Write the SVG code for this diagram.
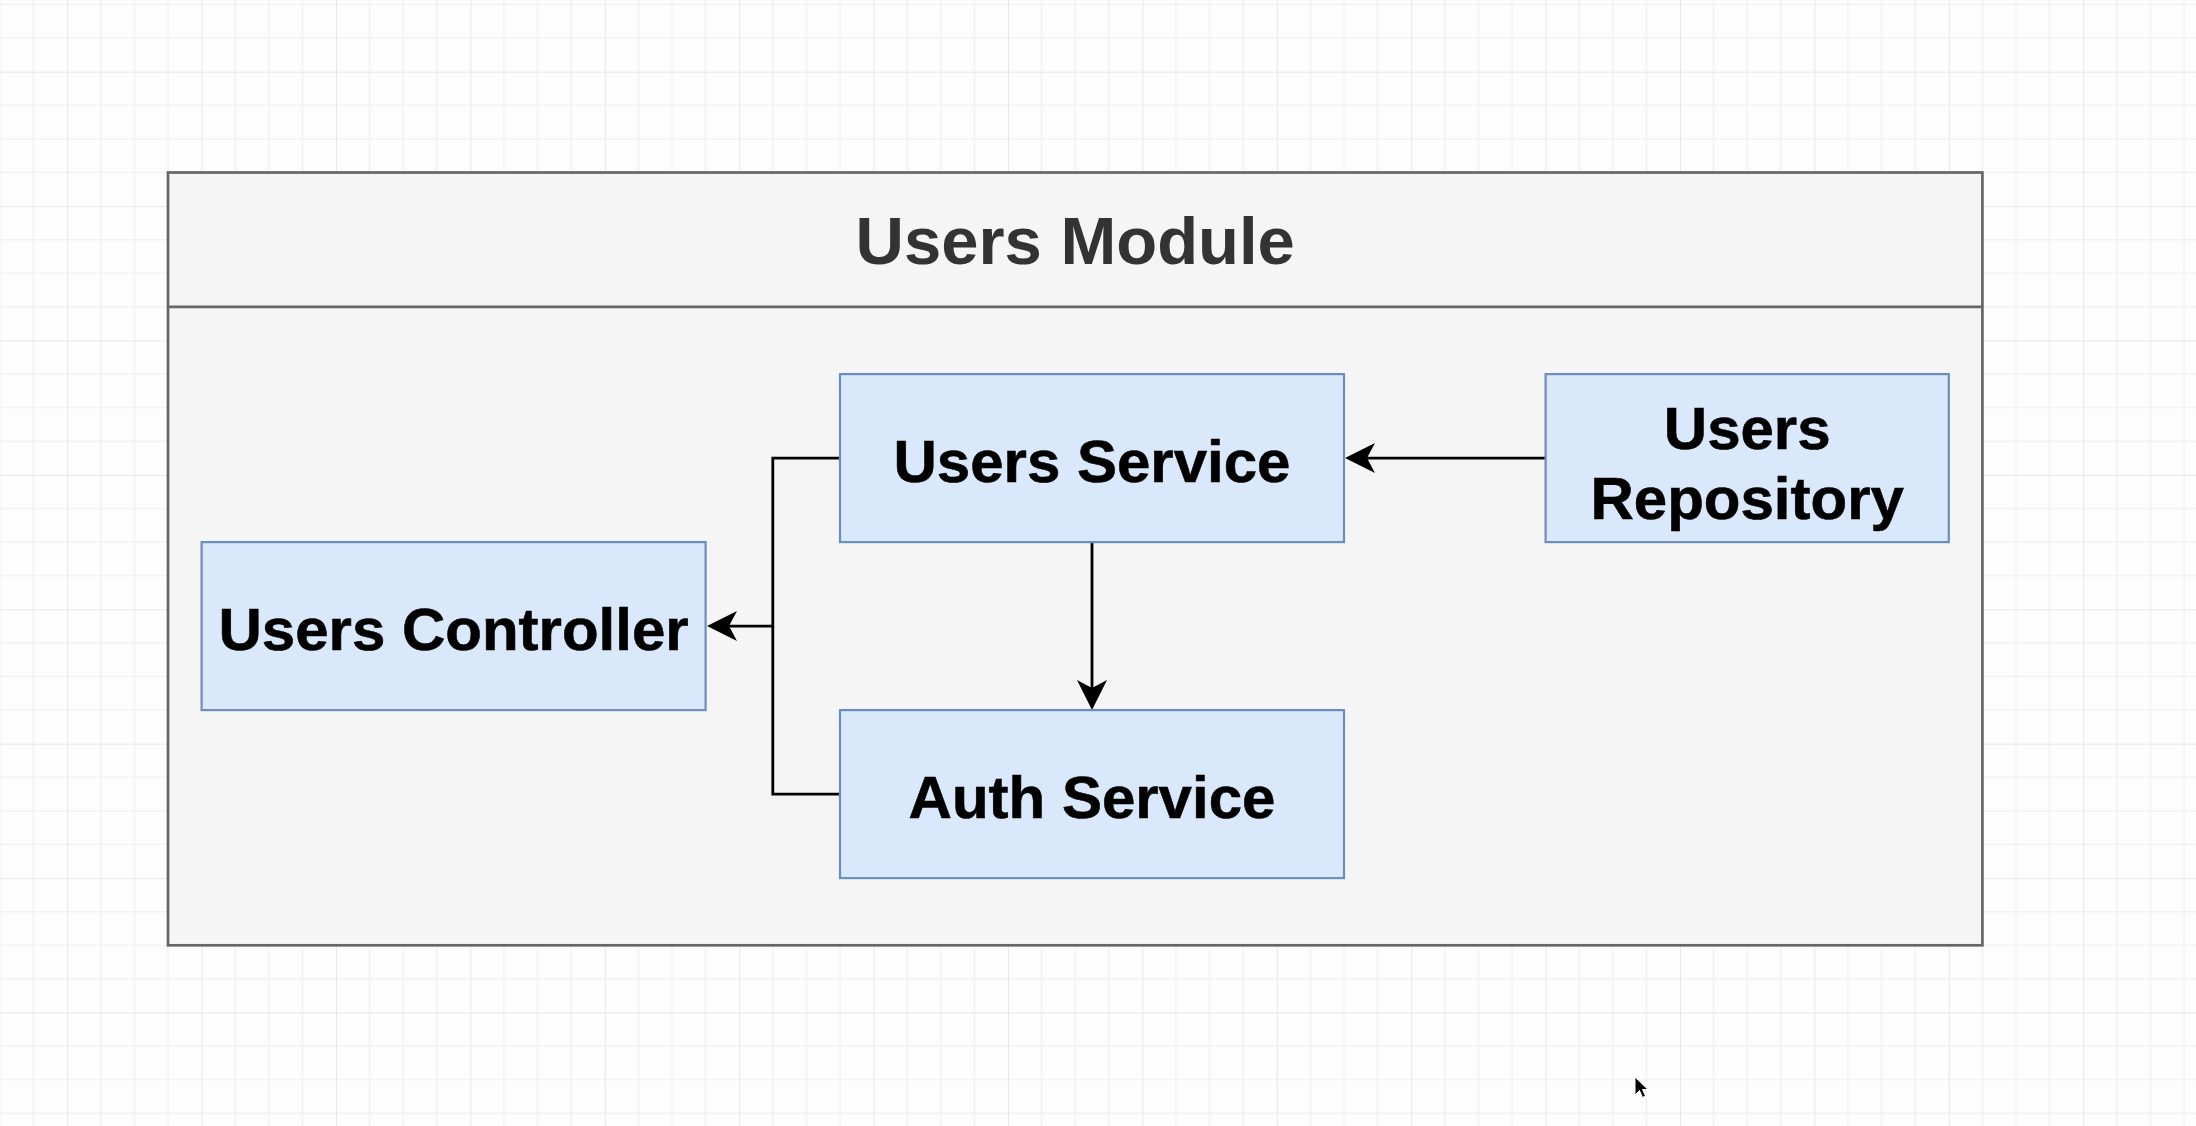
<svg xmlns="http://www.w3.org/2000/svg" width="2196" height="1126" viewBox="0 0 2196 1126">
  <defs>
    <pattern id="grid" patternUnits="userSpaceOnUse" x="67.2" y="71.7" width="134.4" height="134.4">
      <path d="M33.6,0 V134.4 M67.2,0 V134.4 M100.8,0 V134.4 M0,33.6 H134.4 M0,67.2 H134.4 M0,100.8 H134.4" stroke="#f1f1f1" stroke-width="1.5" fill="none"/>
      <path d="M0,0 V134.4 M0,0 H134.4" stroke="#e7e7e7" stroke-width="2" fill="none"/>
    </pattern>
    <marker id="arrow" markerUnits="userSpaceOnUse" viewBox="0 -15 30 30" refX="8" refY="0" markerWidth="30" markerHeight="30" orient="auto" overflow="visible">
      <path d="M0,-15 L30,0 L0,15 L8,0 Z" fill="#000"/>
    </marker>
  </defs>
  <style>
    .node rect { fill: #dae8fc; stroke: #6c8ebf; stroke-width: 2.2; }
    .label { font-family: "Liberation Sans", Arial, Helvetica, sans-serif; font-weight: bold; font-size: 60px; fill: #000; stroke: #000; stroke-width: 0.6; text-anchor: middle; }
    .title { font-family: "Liberation Sans", Arial, Helvetica, sans-serif; font-weight: bold; font-size: 67px; fill: #333333; text-anchor: middle; }
    .edge { fill: none; stroke: #000; stroke-width: 2.8; }
  </style>
  <rect x="0" y="0" width="2196" height="1126" fill="#fdfdfd"/>
  <rect x="0" y="0" width="2196" height="1126" fill="url(#grid)"/>

  <g id="users-module">
    <rect x="168" y="172.5" width="1814.4" height="772.8" fill="#f5f5f5" stroke="#666666" stroke-width="2.7"/>
    <line x1="168" y1="306.9" x2="1982.4" y2="306.9" stroke="#666666" stroke-width="2.7"/>
    <text class="title" x="1075.2" y="264">Users Module</text>
  </g>

  <g id="connectors">
    <path class="edge" d="M840,458.1 H772.8 V626.1 H729" marker-end="url(#arrow)"/>
    <path class="edge" d="M840,794.1 H772.8 V626.1"/>
    <path class="edge" d="M1092,542.1 V688" marker-end="url(#arrow)"/>
    <path class="edge" d="M1545.6,458.1 H1367" marker-end="url(#arrow)"/>
  </g>

  <g id="users-service" class="node">
    <rect x="840" y="374.1" width="504" height="168"/>
    <text class="label" x="1092" y="482">Users Service</text>
  </g>

  <g id="users-repository" class="node">
    <rect x="1545.6" y="374.1" width="403.2" height="168"/>
    <text class="label" x="1747.2" y="449">Users</text>
    <text class="label" x="1747.2" y="519">Repository</text>
  </g>

  <g id="users-controller" class="node">
    <rect x="201.6" y="542.1" width="504" height="168"/>
    <text class="label" x="453.6" y="650">Users Controller</text>
  </g>

  <g id="auth-service" class="node">
    <rect x="840" y="710.1" width="504" height="168"/>
    <text class="label" x="1092" y="818">Auth Service</text>
  </g>

  <path d="M1635,1077 L1635,1095 L1639.5,1090.5 L1642.5,1097.5 L1645.5,1096 L1642.5,1089.5 L1648,1089.5 Z" fill="#000" stroke="#ffffff" stroke-width="1"/>
</svg>
